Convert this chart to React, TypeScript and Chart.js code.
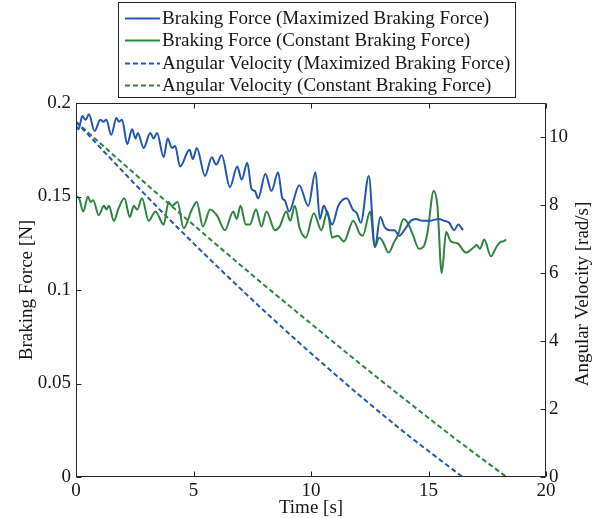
import React, { useEffect, useRef } from 'react';
import { Chart, registerables } from 'chart.js';

Chart.register(...registerables);

const FONT = '"Liberation Serif", "Times New Roman", serif';
const TEXT = '#161616';
const BLUE = '#2256b0';
const GREEN = '#2e8540';

const seriesLabels = [
  'Braking Force (Maximized Braking Force)',
  'Braking Force (Constant Braking Force)',
  'Angular Velocity (Maximized Braking Force)',
  'Angular Velocity (Constant Braking Force)',
];

const timeTicks = [0, 5, 10, 15, 20];
const forceTicks = [0, 0.05, 0.1, 0.15, 0.2];
const velTicks = [0, 2, 4, 6, 8, 10];

const maxForceTime = [0, 0.11, 0.27, 0.41, 0.55, 0.79, 1.04, 1.16, 1.29, 1.5, 1.72, 1.82, 1.96, 2.18, 2.39, 2.53, 2.63, 2.88, 3.16, 3.3, 3.45, 3.73, 3.9, 4.08, 4.22, 4.43, 4.83, 4.97, 5.14, 5.49, 5.78, 5.96, 6.2, 6.55, 6.86, 7.05, 7.29, 7.47, 7.61, 7.75, 8.06, 8.32, 8.6, 8.78, 8.88, 9.07, 9.5, 9.88, 10.19, 10.38, 10.54, 10.7, 10.9, 11.16, 11.52, 11.78, 11.95, 12.12, 12.46, 12.72, 12.95, 13.12, 13.33, 13.55, 13.76, 13.97, 14.25, 14.46, 14.75, 15.03, 15.45, 15.67, 15.88, 16.09, 16.27, 16.47];
const maxForce = [0.188, 0.186, 0.193, 0.191, 0.194, 0.185, 0.191, 0.19, 0.191, 0.183, 0.192, 0.19, 0.191, 0.178, 0.186, 0.181, 0.184, 0.176, 0.184, 0.181, 0.184, 0.171, 0.181, 0.176, 0.177, 0.166, 0.175, 0.17, 0.176, 0.161, 0.171, 0.167, 0.172, 0.155, 0.166, 0.159, 0.168, 0.154, 0.153, 0.149, 0.162, 0.153, 0.163, 0.149, 0.148, 0.142, 0.156, 0.145, 0.163, 0.138, 0.145, 0.141, 0.135, 0.145, 0.149, 0.143, 0.141, 0.136, 0.161, 0.123, 0.139, 0.134, 0.132, 0.132, 0.129, 0.132, 0.137, 0.138, 0.137, 0.137, 0.138, 0.137, 0.136, 0.132, 0.135, 0.132];

const constForceTime = [0, 0.13, 0.31, 0.51, 0.62, 0.73, 0.97, 1.19, 1.3, 1.4, 1.61, 1.82, 2.06, 2.29, 2.46, 2.6, 2.81, 3.09, 3.38, 3.73, 3.94, 4.08, 4.32, 4.58, 4.93, 5.14, 5.4, 5.71, 5.99, 6.34, 6.69, 6.84, 7.0, 7.23, 7.4, 7.66, 7.89, 8.11, 8.46, 8.67, 8.95, 9.12, 9.31, 9.52, 9.78, 10.12, 10.44, 10.7, 10.9, 11.14, 11.4, 11.8, 12.08, 12.2, 12.52, 12.71, 12.91, 13.05, 13.3, 13.55, 13.69, 13.94, 14.11, 14.32, 14.6, 14.82, 14.96, 15.22, 15.38, 15.56, 15.75, 15.95, 16.23, 16.6, 16.94, 17.05, 17.19, 17.37, 17.66, 17.89, 18.11, 18.18, 18.3];
const constForce = [0.15, 0.149, 0.142, 0.15, 0.147, 0.148, 0.14, 0.145, 0.143, 0.145, 0.137, 0.144, 0.149, 0.139, 0.145, 0.143, 0.149, 0.137, 0.142, 0.135, 0.147, 0.145, 0.147, 0.133, 0.143, 0.147, 0.134, 0.143, 0.14, 0.132, 0.142, 0.138, 0.145, 0.135, 0.135, 0.143, 0.134, 0.142, 0.132, 0.134, 0.142, 0.137, 0.145, 0.133, 0.128, 0.141, 0.132, 0.142, 0.128, 0.129, 0.126, 0.137, 0.13, 0.129, 0.142, 0.123, 0.128, 0.126, 0.12, 0.126, 0.129, 0.138, 0.136, 0.13, 0.122, 0.124, 0.131, 0.153, 0.145, 0.109, 0.131, 0.126, 0.125, 0.12, 0.123, 0.124, 0.122, 0.127, 0.118, 0.123, 0.126, 0.126, 0.127];

const maxVelTime = [0, 2, 4, 6, 8, 10, 12, 14, 16.45];
const maxVel = [10.45, 8.98, 7.56, 6.2, 4.89, 3.64, 2.44, 1.3, 0];

const constVelTime = [0, 2, 4, 6, 8, 10, 12, 14, 16, 18.32];
const constVel = [10.45, 9.22, 8.01, 6.82, 5.65, 4.51, 3.38, 2.28, 1.2, 0];

const pts = (xs: number[], ys: number[]) => xs.map((x, i) => ({ x, y: ys[i] }));

const framePlugin = {
  id: 'matlabFrame',
  afterDraw(chart: any) {
    const { ctx, chartArea: a, scales } = chart;
    ctx.save();
    ctx.strokeStyle = '#262626';
    ctx.lineWidth = 1;
    const L = Math.round(a.left) + 0.5;
    const R = Math.round(a.right) - 0.5;
    const T = Math.round(a.top) + 0.5;
    const B = Math.round(a.bottom) - 0.5;
    ctx.strokeRect(L, T, R - L, B - T);
    const tl = 5;
    ctx.beginPath();
    scales.x.ticks.forEach((t: any) => {
      const px = Math.round(scales.x.getPixelForValue(t.value)) + 0.5;
      ctx.moveTo(px, B); ctx.lineTo(px, B - tl);
      ctx.moveTo(px, T); ctx.lineTo(px, T + tl);
    });
    scales.y.ticks.forEach((t: any) => {
      const py = Math.round(scales.y.getPixelForValue(t.value)) + 0.5;
      ctx.moveTo(L, py); ctx.lineTo(L + tl, py);
    });
    scales.y1.ticks.forEach((t: any) => {
      const py = Math.round(scales.y1.getPixelForValue(t.value)) + 0.5;
      ctx.moveTo(R, py); ctx.lineTo(R - tl, py);
    });
    ctx.stroke();

    // right axis title, reading bottom-to-top
    ctx.font = `19px ${FONT}`;
    ctx.fillStyle = TEXT;
    ctx.textAlign = 'center';
    ctx.textBaseline = 'middle';
    ctx.translate(583, (a.top + a.bottom) / 2 + 4);
    ctx.rotate(-Math.PI / 2);
    ctx.fillText('Angular Velocity [rad/s]', 0, 0);
    ctx.restore();
  },
};

const legendPlugin = {
  id: 'boxLegend',
  afterDraw(chart: any) {
    const ctx = chart.ctx;
    ctx.save();
    const x0 = 118.5, y0 = 2.5, w = 397, h = 95;
    ctx.fillStyle = '#ffffff';
    ctx.fillRect(x0, y0, w, h);
    ctx.strokeStyle = '#222';
    ctx.lineWidth = 1;
    ctx.strokeRect(x0, y0, w, h);
    ctx.font = `19px ${FONT}`;
    ctx.textBaseline = 'middle';
    ctx.textAlign = 'left';
    chart.data.datasets.forEach((ds: any, i: number) => {
      const y = Math.round(18 + i * 22.3) + 0.5;
      ctx.strokeStyle = ds.borderColor;
      ctx.lineWidth = 2;
      ctx.setLineDash(ds.borderDash || []);
      ctx.beginPath();
      ctx.moveTo(125, y);
      ctx.lineTo(160, y);
      ctx.stroke();
      ctx.setLineDash([]);
      ctx.fillStyle = TEXT;
      ctx.fillText(ds.label, 162, y + 1);
    });
    ctx.restore();
  },
};

export default function App() {
  const ref = useRef<HTMLCanvasElement>(null);
  useEffect(() => {
    const tickFont = { family: FONT, size: 19 };
    const chart = new Chart(ref.current as HTMLCanvasElement, {
      type: 'line',
      data: {
        datasets: [
          {
            label: seriesLabels[0],
            data: pts(maxForceTime, maxForce),
            borderColor: BLUE,
            borderWidth: 2,
            pointRadius: 0,
            cubicInterpolationMode: 'monotone',
            yAxisID: 'y',
          },
          {
            label: seriesLabels[1],
            data: pts(constForceTime, constForce),
            borderColor: GREEN,
            borderWidth: 2,
            pointRadius: 0,
            cubicInterpolationMode: 'monotone',
            yAxisID: 'y',
          },
          {
            label: seriesLabels[2],
            data: pts(maxVelTime, maxVel),
            borderColor: BLUE,
            borderWidth: 2,
            borderDash: [5, 3],
            pointRadius: 0,
            cubicInterpolationMode: 'monotone',
            yAxisID: 'y1',
          },
          {
            label: seriesLabels[3],
            data: pts(constVelTime, constVel),
            borderColor: GREEN,
            borderWidth: 2,
            borderDash: [5, 3],
            pointRadius: 0,
            cubicInterpolationMode: 'monotone',
            yAxisID: 'y1',
          },
        ],
      } as any,
      options: {
        responsive: false,
        animation: false,
        devicePixelRatio: 1,
        layout: { padding: { top: 103, left: 0, right: 0, bottom: 0 } },
        plugins: {
          legend: { display: false },
          tooltip: { enabled: false },
        },
        scales: {
          x: {
            type: 'linear',
            min: 0,
            max: 20,
            afterBuildTicks: (s: any) => { s.ticks = timeTicks.map((v) => ({ value: v })); },
            afterFit: (s: any) => { s.height = 41; },
            grid: { display: false, drawTicks: false },
            border: { display: false },
            ticks: { font: tickFont, color: TEXT, padding: 3, maxRotation: 0, autoSkip: false },
            title: {
              display: true,
              text: 'Time [s]',
              color: TEXT,
              font: { family: FONT, size: 19, lineHeight: 1 },
              padding: { top: 0, bottom: 0 },
            },
          },
          y: {
            type: 'linear',
            position: 'left',
            min: 0,
            max: 0.2,
            afterBuildTicks: (s: any) => { s.ticks = forceTicks.map((v) => ({ value: v })); },
            afterFit: (s: any) => { s.width = 76; },
            grid: { display: false, drawTicks: false },
            border: { display: false },
            ticks: {
              font: tickFont,
              color: TEXT,
              padding: 5,
              callback: (v: any) => String(Number(Number(v).toFixed(2))),
            },
            title: {
              display: true,
              text: 'Braking Force [N]',
              color: TEXT,
              font: { family: FONT, size: 19, lineHeight: 1 },
              padding: { top: 18, bottom: 0 },
            },
          },
          y1: {
            type: 'linear',
            position: 'right',
            min: 0,
            max: 11,
            afterBuildTicks: (s: any) => { s.ticks = velTicks.map((v) => ({ value: v })); },
            afterFit: (s: any) => { s.width = 54; },
            grid: { display: false, drawTicks: false },
            border: { display: false },
            ticks: { font: tickFont, color: TEXT, padding: 3 },
          },
        },
      } as any,
      plugins: [framePlugin, legendPlugin],
    });
    return () => chart.destroy();
  }, []);
  return (
    <div style={{ position: 'fixed', left: 0, top: 0, width: 600, height: 518, background: '#fff' }}>
      <canvas ref={ref} width={600} height={518} style={{ display: 'block', width: 600, height: 518 }} />
    </div>
  );
}
